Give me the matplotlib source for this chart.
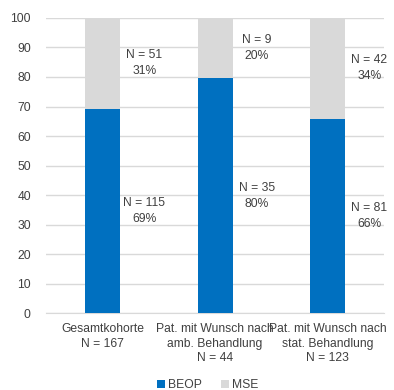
import numpy as np
import matplotlib.pyplot as plt

plt.rcParams['font.family'] = ['Liberation Sans', 'DejaVu Sans']

categories = ['Gesamtkohorte\nN = 167',
              'Pat. mit Wunsch nach\namb. Behandlung\nN = 44',
              'Pat. mit Wunsch nach\nstat. Behandlung\nN = 123']
beop_n = [115, 35, 81]
mse_n = [51, 9, 42]
beop_pct = [69, 80, 66]
mse_pct = [31, 20, 34]

beop_share = [b / (b + m) * 100 for b, m in zip(beop_n, mse_n)]
mse_share = [100 - s for s in beop_share]

blue = '#0070C0'
grey = '#D9D9D9'
txt = '#404040'

fig = plt.figure(figsize=(3.94, 3.90), dpi=100)
ax = fig.add_axes([0.117, 0.197, 0.858, 0.757])

x = np.arange(len(categories))
w = 0.31
ax.bar(x, beop_share, w, color=blue, label='BEOP', zorder=3)
ax.bar(x, mse_share, w, bottom=beop_share, color=grey, label='MSE', zorder=3)

for i in range(len(categories)):
    ax.text(x[i] + 0.37, beop_share[i] / 2, f'N = {beop_n[i]}\n{beop_pct[i]}%',
            ha='center', va='center', fontsize=8.7, color=txt, linespacing=1.45)
    ax.text(x[i] + 0.37, beop_share[i] + mse_share[i] / 2, f'N = {mse_n[i]}\n{mse_pct[i]}%',
            ha='center', va='center', fontsize=8.7, color=txt, linespacing=1.45)

ax.set_xlim(-0.5, 2.5)
ax.set_ylim(0, 100)
ax.set_yticks(range(0, 101, 10))
ax.set_xticks(x)
ax.set_xticklabels(categories, fontsize=8.7, color=txt, linespacing=1.3)
ax.tick_params(axis='y', labelsize=8.7, colors=txt, length=0, pad=11)
ax.tick_params(axis='x', length=0, pad=7)
ax.yaxis.grid(True, color='#D9D9D9', linewidth=1, zorder=0)
for s in ['top', 'right', 'left']:
    ax.spines[s].set_visible(False)
ax.spines['bottom'].set_color('#D9D9D9')

fig.legend(loc='center', bbox_to_anchor=(0.528, 0.013), ncol=2, frameon=False,
           fontsize=8.7, handlelength=0.6, handleheight=0.6, handletextpad=0.3,
           columnspacing=1.6, labelcolor=txt, borderaxespad=0)

fig.savefig('out.png', dpi=100)
